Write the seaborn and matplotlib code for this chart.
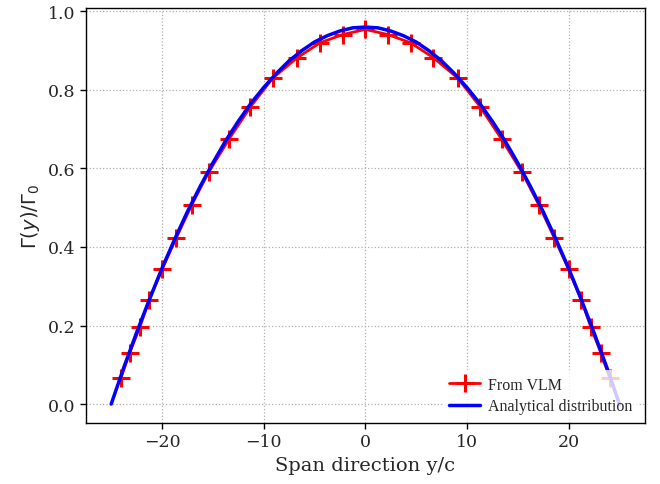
import numpy as np
import pandas as pd
import matplotlib
matplotlib.use("Agg")
import matplotlib.pyplot as plt
import seaborn as sns

# VLM results
vlm_y = [-24.05, -23.2, -22.2, -21.25, -20.0, -18.6, -17.1, -15.4, -13.4, -11.3, -9.1, -6.7, -4.45, -2.22, 0.0,
         2.22, 4.45, 6.7, 9.1, 11.3, 13.4, 15.4, 17.1, 18.6, 20.0, 21.25, 22.2, 23.2, 24.05]
vlm_gamma = [0.066, 0.129, 0.195, 0.265, 0.343, 0.423, 0.506, 0.591, 0.675, 0.757, 0.830, 0.882, 0.920, 0.941, 0.954,
             0.941, 0.920, 0.882, 0.830, 0.757, 0.675, 0.591, 0.506, 0.423, 0.343, 0.265, 0.195, 0.129, 0.066]

# Analytical distribution
ana_y = [-25.0, -23.75, -22.5, -21.25, -20.0, -18.75, -17.5, -16.25, -15.0, -13.75, -12.5, -11.25, -10.0,
         -8.75, -7.5, -6.25, -5.0, -3.75, -2.5, -1.25, 0.0, 1.25, 2.5, 3.75, 5.0, 6.25, 7.5, 8.75, 10.0,
         11.25, 12.5, 13.75, 15.0, 16.25, 17.5, 18.75, 20.0, 21.25, 22.5, 23.75, 25.0]
ana_gamma = [0.0, 0.094, 0.182, 0.266, 0.346, 0.420, 0.490, 0.554, 0.614, 0.670, 0.720, 0.766, 0.806,
             0.842, 0.874, 0.900, 0.922, 0.938, 0.950, 0.958, 0.960, 0.958, 0.950, 0.938, 0.922, 0.900, 0.874,
             0.842, 0.806, 0.766, 0.720, 0.670, 0.614, 0.554, 0.490, 0.420, 0.346, 0.266, 0.182, 0.094, 0.0]

xlabel = "Span direction y/c"
ylabel = r"$\Gamma(y)/\Gamma_0$"
label_vlm = "From VLM"
label_ana = "Analytical distribution"

sns.set_style("white")
plt.rcParams["font.family"] = ["DejaVu Serif"]

fig = plt.figure(figsize=(6.6, 4.85), dpi=100)
ax = fig.add_axes([0.130, 0.126, 0.847, 0.855])

df_vlm = pd.DataFrame({"y": vlm_y, "g": vlm_gamma})
df_ana = pd.DataFrame({"y": ana_y, "g": ana_gamma})

sns.lineplot(data=df_vlm, x="y", y="g", ax=ax, color="red", label=label_vlm, sort=False)
sns.lineplot(data=df_ana, x="y", y="g", ax=ax, color="blue", label=label_ana, sort=False)

l_vlm, l_ana = ax.lines[0], ax.lines[1]
l_vlm.set_linestyle("-")
l_vlm.set_linewidth(2.0)
l_vlm.set_marker("+")
l_vlm.set_markersize(13)
l_vlm.set_markeredgewidth(2.2)
l_vlm.set_markeredgecolor("red")
l_vlm.set_zorder(2)
l_ana.set_linestyle("-")
l_ana.set_linewidth(2.5)
l_ana.set_zorder(3)

ax.set_xlim(-27.5, 27.5)
ax.set_ylim(-0.048, 1.008)
ax.set_xticks([-20, -10, 0, 10, 20])
ax.set_yticks([0.0, 0.2, 0.4, 0.6, 0.8, 1.0])
ax.set_yticklabels(["0.0", "0.2", "0.4", "0.6", "0.8", "1.0"])

ax.grid(True, linestyle=":", color="#b0b0b0", linewidth=0.9)
for s in ax.spines.values():
    s.set_color("black")
    s.set_linewidth(1.0)
ax.tick_params(axis="both", which="major", direction="out", length=4, width=1,
               color="black", labelsize=12.5, bottom=True, left=True)

ax.set_xlabel(xlabel, fontsize=14)
ax.set_ylabel(ylabel, fontsize=14, family="DejaVu Sans")

leg = ax.legend(handles=[l_vlm, l_ana], labels=[label_vlm, label_ana], loc="lower right",
                bbox_to_anchor=(0.993, 0.0),
                prop={"family": "Liberation Serif", "size": 11.5},
                frameon=True, framealpha=0.8, edgecolor="none", fancybox=False,
                handlelength=1.9, handletextpad=0.5, labelspacing=0.35,
                borderaxespad=0.15)

fig.savefig("out.png", dpi=100)
